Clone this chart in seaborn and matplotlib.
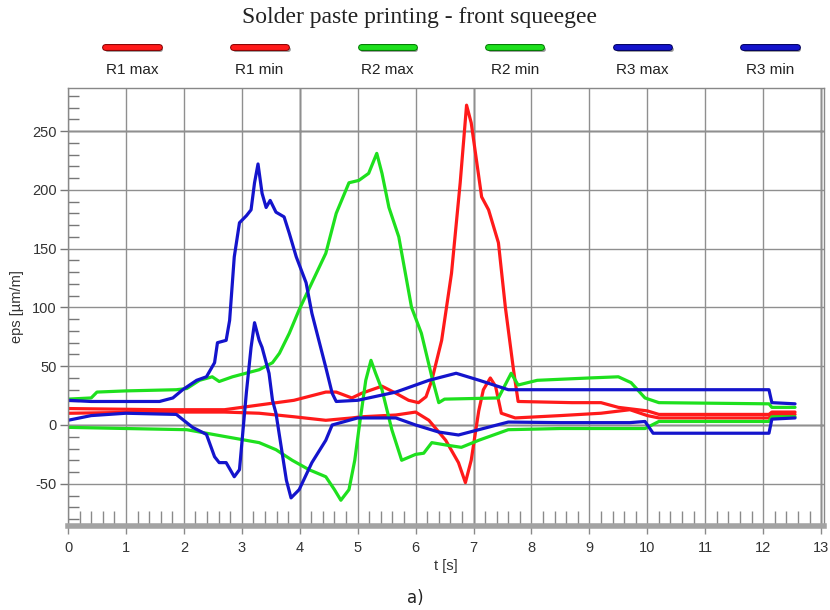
import numpy as np
import pandas as pd
import matplotlib
matplotlib.use("Agg")
import matplotlib.pyplot as plt
import matplotlib.patheffects as pe
from matplotlib.lines import Line2D
from matplotlib.ticker import MultipleLocator
import seaborn as sns

# values (t in s, eps in um/m)
r1max_t = [0, 1.6, 2.7, 3.3, 3.9, 4.45, 4.63, 4.9, 5.07, 5.42, 5.66, 5.88, 6.05, 6.18, 6.28, 6.45,
           6.62, 6.77, 6.88, 6.96, 7.14, 7.26, 7.43, 7.55, 7.69, 7.77, 8.7, 9.2, 9.5, 10.0, 10.2,
           12.1, 12.15, 12.55]
r1max_v = [14, 13, 13, 17, 21, 28, 28, 23, 27, 33, 27, 21, 19, 24, 38, 72,
           129, 206, 272, 257, 194, 183, 155, 100, 47, 20, 19, 19, 15, 12, 9,
           9, 11, 11]

r1min_t = [0, 1.5, 2.7, 3.3, 3.9, 4.45, 4.9, 5.07, 5.66, 6.0, 6.23, 6.52, 6.74, 6.86, 6.96, 7.09,
           7.17, 7.29, 7.38, 7.48, 7.72, 8.5, 9.2, 9.7, 10.0, 10.2, 12.1, 12.15, 12.55]
r1min_v = [10, 11, 11, 10, 7, 4, 6, 7, 8.5, 11, 4, -13, -32, -49, -30, 12,
           30, 40, 33, 10, 6, 8, 10, 13, 8, 6, 6, 9, 9]

r2max_t = [0, 0.4, 0.5, 1.0, 1.87, 2.05, 2.27, 2.49, 2.61, 2.84, 3.3, 3.53, 3.65, 3.82, 3.99, 4.21,
           4.45, 4.63, 4.85, 5.02, 5.19, 5.33, 5.42, 5.54, 5.71, 5.93, 6.1, 6.28, 6.4, 6.5, 7.43,
           7.65, 7.77, 8.1, 9.0, 9.5, 9.72, 9.96, 10.2, 12.1, 12.15, 12.55]
r2max_v = [22, 23, 28, 29, 30, 31, 38, 41, 37, 41, 47, 53, 61, 78, 98, 121,
           146, 180, 206, 208, 214, 231, 214, 185, 160, 100, 78, 41, 19, 22, 23,
           44, 34, 38, 40, 41, 36, 23, 19, 18, 15, 15]

r2min_t = [0, 1.0, 2.05, 2.73, 3.3, 3.59, 3.87, 4.16, 4.45, 4.6, 4.71, 4.85, 4.95, 5.02, 5.14, 5.23,
           5.31, 5.42, 5.59, 5.76, 6.0, 6.14, 6.28, 6.52, 6.79, 7.09, 7.6, 8.5, 9.7, 9.96, 10.2,
           12.1, 12.15, 12.55]
r2min_v = [-2, -3, -4, -10, -15, -21, -30, -38, -44, -55, -64, -55, -30, -4, 38, 55,
           44, 30, -4, -30, -25, -24, -15, -17, -19, -13, -4, -3, -3, -3, 3,
           3, 7, 7]

r3max_t = [0, 0.4, 1.58, 1.81, 1.98, 2.22, 2.39, 2.53, 2.58, 2.73, 2.79, 2.87, 2.96, 3.08, 3.16, 3.22,
           3.28, 3.35, 3.42, 3.49, 3.59, 3.73, 3.82, 3.94, 4.11, 4.21, 4.33, 4.45, 4.56, 4.63, 5.0,
           5.66, 6.23, 6.7, 7.1, 7.6, 8.0, 10.0, 12.1, 12.15, 12.55]
r3max_v = [21, 20, 20, 23, 30, 38, 41, 53, 70, 72, 89, 143, 172, 178, 183, 206,
           222, 197, 185, 191, 181, 177, 163, 143, 121, 95, 72, 49, 27, 20, 21,
           28, 38, 44, 38, 30, 30, 30, 30, 19, 18]

r3min_t = [0, 0.4, 1.0, 1.87, 2.15, 2.39, 2.53, 2.61, 2.73, 2.87, 2.96, 3.08, 3.16, 3.22, 3.3, 3.35,
           3.47, 3.53, 3.59, 3.77, 3.85, 3.99, 4.21, 4.45, 4.56, 5.0, 5.66, 6.0, 6.4, 6.74, 7.09,
           7.6, 8.5, 9.7, 9.96, 10.1, 12.1, 12.15, 12.55]
r3min_v = [4, 8, 10, 9, -2, -8, -27, -32, -32, -44, -38, 28, 66, 87, 72, 66,
           44, 21, 10, -47, -62, -55, -32, -13, 0, 6, 6, 0, -6, -8.5, -4,
           2.5, 2, 2, 3, -7, -7, 5, 6]

names = ["R1 max", "R1 min", "R2 max", "R2 min", "R3 max", "R3 min"]
colors = ["#ff1a1a", "#ff1a1a", "#1ee01e", "#1ee01e", "#1414cc", "#1414cc"]
edge_colors = ["#8a0000", "#8a0000", "#007a00", "#007a00", "#000060", "#000060"]
series = [(r1max_t, r1max_v), (r1min_t, r1min_v), (r2max_t, r2max_v),
          (r2min_t, r2min_v), (r3max_t, r3max_v), (r3min_t, r3min_v)]

x_ticks = list(range(0, 14))
y_ticks = [-50, 0, 50, 100, 150, 200, 250]
dark_x = [4, 7, 13]
dark_y = [0, 250]

frames = []
for name, (t, v) in zip(names, series):
    frames.append(pd.DataFrame({"t": t, "eps": v, "series": name}))
df = pd.concat(frames, ignore_index=True)

sns.set_style("white")
plt.rcParams["font.family"] = ["Liberation Sans", "DejaVu Sans"]
plt.rcParams["axes.unicode_minus"] = False

fig = plt.figure(figsize=(8.3, 6.1), dpi=100)
ax = fig.add_axes([68 / 830, 1 - 526 / 610, (824 - 68) / 830, (526 - 88) / 610])

# grid under the data
ax.set_axisbelow(True)
ax.grid(True, which="major", color="#8f8f8f", lw=1)
for xv in dark_x:
    ax.axvline(xv, color="#111111", lw=1, zorder=0.5)
for yv in dark_y:
    ax.axhline(yv, color="#111111", lw=1, zorder=0.5)

sns.lineplot(data=df, x="t", y="eps", hue="series", units="series", estimator=None,
             sort=False, palette=dict(zip(names, colors)), lw=2.3, legend=False, ax=ax)

ax.set_xlim(0, 13.05)
ax.set_ylim(-85.9, 286.6)
ax.set_xticks(x_ticks)
ax.set_yticks(y_ticks)
ax.xaxis.set_minor_locator(MultipleLocator(0.2))
ax.yaxis.set_minor_locator(MultipleLocator(10))
ax.tick_params(left=True, bottom=True, which="both")
ax.tick_params(axis="x", which="major", direction="out", length=6, width=1, color="#8a8a8a",
               pad=5, labelsize=10.5, labelcolor="#333333")
ax.tick_params(axis="x", which="minor", direction="in", length=11, width=1, color="#8a8a8a")
ax.tick_params(axis="y", which="major", direction="out", length=6, width=1, color="#777777",
               pad=2, labelsize=10.5, labelcolor="#333333")
ax.tick_params(axis="y", which="minor", direction="in", length=8, width=1, color="#777777")

for side in ["left", "top", "right"]:
    ax.spines[side].set_color("#888888")
    ax.spines[side].set_linewidth(1)
ax.spines["bottom"].set_color("#a3a3a3")
ax.spines["bottom"].set_linewidth(4)

ax.set_xlabel("t [s]", fontsize=10.5, color="#333333", labelpad=3)
ax.set_ylabel("eps [µm/m]", fontsize=10.5, color="#333333", labelpad=6)

fig.text(0.506, 0.972, "Solder paste printing - front squeegee", ha="center", va="center",
         fontsize=17, family=["Liberation Serif", "DejaVu Serif"], color="#222222")

# legend row: sample line above each label
for i, (name, c, ec) in enumerate(zip(names, colors, edge_colors)):
    xc = (132 + i * 127.6) / 830
    fig.add_artist(Line2D([xc - 0.032, xc + 0.032], [0.923, 0.923], transform=fig.transFigure,
                          color=c, lw=3.5, solid_capstyle="round",
                          path_effects=[pe.SimpleLineShadow(offset=(1.2, -1.2), alpha=0.4),
                                        pe.Stroke(linewidth=5, foreground=ec), pe.Normal()]))
    fig.text(xc, 0.885, name, ha="center", va="center", fontsize=11,
             family=["Liberation Sans Narrow", "Liberation Sans", "DejaVu Sans"], color="#222222")

fig.text(0.5, 0.019, "a)", ha="center", va="center", fontsize=12, family=["DejaVu Sans"],
         color="#222222")

fig.savefig("out.png", dpi=100)
